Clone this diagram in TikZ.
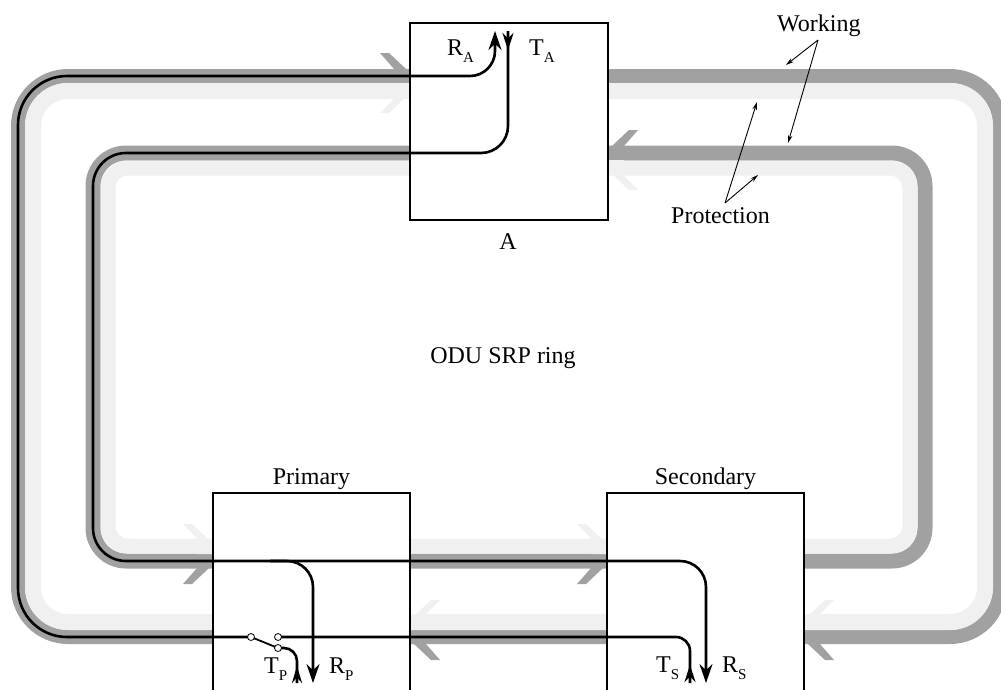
\documentclass[tikz,border=0pt]{standalone}
\usepackage{fontspec}
\setmainfont{Liberation Serif}
\usetikzlibrary{arrows.meta}
\newcommand{\lsub}[1]{\raisebox{-7pt}{\fontsize{15}{15}\selectfont #1}}
\newcommand{\chev}[4]{%
  \begin{scope}[shift={(#1,#2)},xscale=#3,yscale=#4]
    \fill[darkfill] (0,0) -- (-32,30) -- (-41,30) -- (-27,14) -- (-27,0) -- cycle;
    \fill[lightfill] (0,0) -- (-32,-30) -- (-41,-30) -- (-27,-16) -- (-27,0) -- cycle;
  \end{scope}}
\begin{document}
\begin{tikzpicture}[x=1pt,y=-1pt,
  darkband/.style={draw=black!37},
  lightband/.style={draw=black!6},
  darkfill/.style={fill=black!37},
  lightfill/.style={fill=black!6},
  box/.style={draw=black,line width=1.3pt,fill=white,inner sep=0pt,minimum width=197pt},
  blk/.style={draw=black,line width=2.6pt},
  tipR/.style={-{Stealth[length=19pt,width=13pt]}},
  tipT/.style={-{Stealth[length=17pt,width=11pt]}},
  contact/.style={circle,draw=black,line width=0.8pt,fill=white,inner sep=0pt,minimum size=7pt},
  lead/.style={draw=black,line width=0.9pt,-{Stealth[length=8pt,width=4.5pt]}},
  lbl/.style={font=\fontsize{24}{28}\selectfont,inner sep=0pt}]
\useasboundingbox (0,0) rectangle (1001,689);

% rings
\draw[darkband,line width=14pt,rounded corners=50pt] (18,76) rectangle (1000,637);
\draw[lightband,line width=16pt,rounded corners=35pt] (33,91) rectangle (985,622);
\draw[darkband,line width=15pt,rounded corners=33pt] (93,153) rectangle (925,561);
\draw[lightband,line width=15pt,rounded corners=20pt] (108,168) rectangle (910,546);

% ring arrowheads
\chev{421}{83}{1}{-1}
\chev{597}{160}{-1}{-1}
\chev{224}{554}{1}{1}
\chev{399}{630}{-1}{1}
\chev{618}{554}{1}{1}
\chev{793}{630}{-1}{1}

% boxes
\node[box,minimum width=198pt,minimum height=197pt] (A) at (509,121.5) {};
\node[box,minimum height=210pt] (P) at (311.5,598) {};
\node[box,minimum height=210pt] (S) at (705.5,598) {};

% switch contacts
\coordinate (sL) at (251,637);
\coordinate (sR) at (278,637);
\coordinate (sT) at (278,648);

% working paths (outer ring)
\draw[blk,rounded corners=49pt] (sL) -- (18,637) -- (18,76) -- (300,76);
\draw[blk,rounded corners=25pt,tipR] (300,76) -- (495,76) -- (495,31);
\draw[blk,rounded corners=14pt] (sR) -- (690,637) -- (690,683);
\draw[blk,tipT] (690,683) -- (690,665);

% working paths (inner ring)
\draw[blk,rounded corners=27pt] (508,31) -- (508,153) -- (300,153);
\draw[blk,tipT] (508,31) -- (508,50);
\draw[blk,rounded corners=33pt] (300,153) -- (93,153) -- (93,561) -- (400,561);
\draw[blk,rounded corners=26pt,tipR] (400,561) -- (706,561) -- (706,683);
\draw[blk,rounded corners=26pt,tipR] (270,561) -- (313,561) -- (313,683);

% T_P path and switch lever
\draw[blk,rounded corners=13pt] (sT) -- (297,648) -- (297,683);
\draw[blk,-{Stealth[length=17pt,width=10pt]}] (297,683) -- (297,666);
\draw[black,line width=1.8pt] (sL) -- (sT);
\node[contact] (cL) at (sL) {};
\node[contact] (cR) at (sR) {};
\node[contact] (cT) at (sT) {};

% labels
\node[lbl,anchor=base west] (RA) at (447,55) {R\lsub{A}};
\node[lbl,anchor=base west] (TA) at (529,55) {T\lsub{A}};
\node[lbl,anchor=base west] (TP) at (264,673) {T\lsub{P}};
\node[lbl,anchor=base west] (RP) at (329,673) {R\lsub{P}};
\node[lbl,anchor=base west] (TS) at (656,672) {T\lsub{S}};
\node[lbl,anchor=base west] (RS) at (722,672) {R\lsub{S}};
\node[lbl,anchor=base] (Alab) at (508,249) {A};
\node[lbl,anchor=base] (Plab) at (311.5,484) {Primary};
\node[lbl,anchor=base] (Slab) at (705.5,484) {Secondary};
\node[lbl,anchor=base] (ring) at (503,363) {ODU SRP ring};
\node[lbl,anchor=base west] (work) at (777,31) {Working};
\node[lbl,anchor=base west] (prot) at (671,223) {Protection};

% leaders
\coordinate (wa) at (818,40);
\coordinate (w1) at (786,65);
\coordinate (w2) at (788,143);
\coordinate (pa) at (725,203);
\coordinate (p1) at (757,102);
\coordinate (p2) at (758,175);
\draw[lead] (wa) -- (w1);
\draw[lead] (wa) -- (w2);
\draw[lead] (pa) -- (p1);
\draw[lead] (pa) -- (p2);
\end{tikzpicture}
\end{document}
